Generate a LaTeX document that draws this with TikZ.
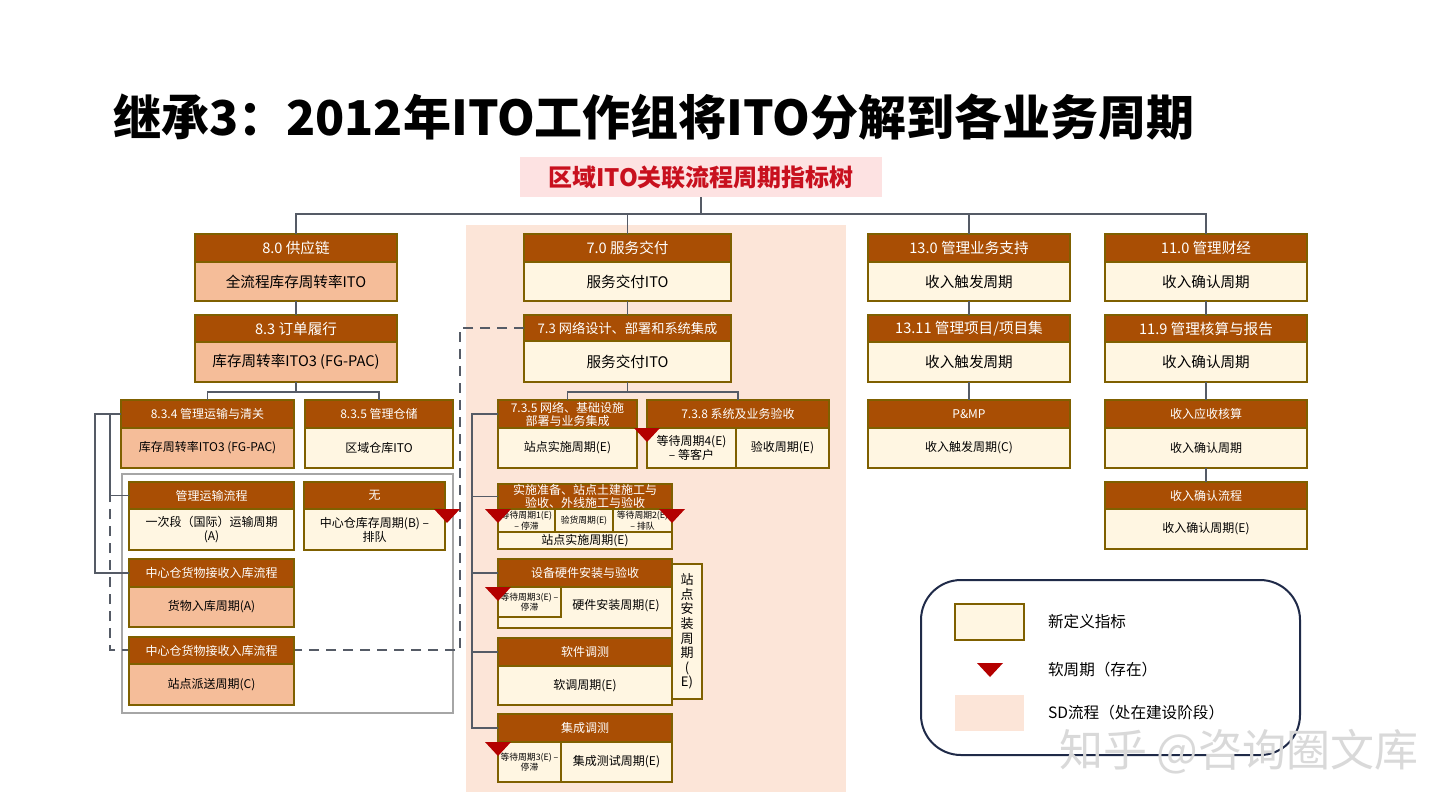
\documentclass[tikz,border=0pt]{standalone}
\usepackage{fontspec}
\setmainfont{Noto Sans CJK SC}
\usetikzlibrary{calc}
\definecolor{hdrc}{HTML}{A94E04}
\definecolor{bordc}{HTML}{7F6000}
\definecolor{creamc}{HTML}{FFF6E2}
\definecolor{peachc}{HTML}{F5BD99}
\definecolor{sdc}{HTML}{FCE5D8}
\definecolor{connc}{HTML}{555B66}
\definecolor{tric}{HTML}{B40000}
\definecolor{subbg}{HTML}{FDE2E2}
\definecolor{subtx}{HTML}{C8101E}
\definecolor{legc}{HTML}{1F2A48}
\definecolor{framec}{HTML}{A6A6A6}
\newcommand\fs[2]{\fontsize{#1pt}{#2pt}\selectfont}
\newcommand\bx[7]{\node[#2, minimum width={(#5-#3)*0.5pt}, minimum height={(#6-#4)*0.5pt}] (#1) at ({(#3+#5)/2},{(#4+#6)/2}) {#7};}
\tikzset{
  cell/.style={draw=bordc, line width=0.75pt, inner sep=0pt, outer sep=0pt, align=center, text=black},
  hdr/.style={cell, fill=hdrc, text=white},
  crm/.style={cell, fill=creamc},
  pch/.style={cell, fill=peachc},
  conn/.style={draw=connc, line width=0.8pt},
  dsh/.style={conn, dash pattern={on 5pt off 3.5pt}},
  big/.style={font=\fs{7.3}{9}},
  mid/.style={font=\fs{6}{7}},
  tiny/.style={font=\fs{4.4}{5.2}},
  legtxt/.style={anchor=west, font=\fs{7.8}{9}},
}
\newcommand\tri[2]{\fill[tric] ({#1-13},#2) -- ({#1+13},#2) -- (#1,{#2+14}) -- cycle;}
\begin{document}
\begin{tikzpicture}[x=0.5pt,y=-0.5pt]
\fill[white] (0,0) rectangle (1440,810);
\useasboundingbox (0,0) rectangle (1440,810);
% title
\node[anchor=west, font=\fs{24}{28}\bfseries] (title) at (106,117) {继承3：2012年ITO工作组将ITO分解到各业务周期};
\bx{root}{fill=subbg, inner sep=0pt, text=subtx, font=\fs{12}{14}\bfseries}{520}{157}{882}{197}{区域ITO关联流程周期指标树}
% SD background
\fill[sdc] (466,225) rectangle (846,792);
\coordinate (dl) at (110,650);
% column 8
\bx{a0h}{hdr,big}{195}{234}{397}{262}{8.0 供应链}
\bx{a0b}{pch,big}{195}{262}{397}{301}{全流程库存周转率ITO}
\bx{a1h}{hdr,big}{195}{315}{397}{342}{8.3 订单履行}
\bx{a1b}{pch,big}{195}{342}{397}{382}{库存周转率ITO3 (FG-PAC)}
\bx{a2h}{hdr,mid}{121}{400}{294}{428}{8.3.4 管理运输与清关}
\bx{a2b}{pch,mid}{121}{428}{294}{468}{库存周转率ITO3 (FG-PAC)}
\bx{a3h}{hdr,mid}{305}{400}{453}{428}{8.3.5 管理仓储}
\bx{a3b}{crm,mid}{305}{428}{453}{468}{区域仓库ITO}
\draw[draw=framec, line width=0.9pt] (122,474) rectangle (453,713);
% column 7 upper
\bx{b0h}{hdr,big}{524}{234}{731}{262}{7.0 服务交付}
\bx{b0b}{crm,big}{524}{262}{731}{301}{服务交付ITO}
\bx{b1h}{hdr,font=\fs{6.6}{8}}{524}{315}{731}{341}{7.3 网络设计、部署和系统集成}
\bx{b1b}{crm,big}{524}{341}{731}{382}{服务交付ITO}
\draw[dsh] (b1h.west) -- ++(-64,0) |- (dl) -- (110,496);
\bx{a4h}{hdr,mid}{129}{482}{294}{509}{管理运输流程}
\bx{a4b}{crm,mid}{129}{509}{294}{550}{一次段（国际）运输周期\\(A)}
\bx{a5h}{hdr,mid}{304}{482}{445}{509}{无}
\bx{a5b}{crm,mid}{304}{509}{445}{550}{中心仓库存周期(B) –\\排队}
\bx{a6h}{hdr,mid}{129}{559}{294}{587}{中心仓货物接收入库流程}
\bx{a6b}{pch,mid}{129}{587}{294}{627}{货物入库周期(A)}
\bx{a7h}{hdr,mid}{129}{637}{294}{664}{中心仓货物接收入库流程}
\bx{a7b}{pch,mid}{129}{664}{294}{705}{站点派送周期(C)}
% column 7 lower
\bx{b2h}{hdr,font=\fs{6}{6.6}}{498}{400}{637}{428}{7.3.5 网络、基础设施\\部署与业务集成}
\bx{b2b}{crm,mid}{498}{428}{637}{468}{站点实施周期(E)}
\bx{b3h}{hdr,mid}{647}{400}{829}{428}{7.3.8 系统及业务验收}
\bx{b3l}{crm,mid}{647}{428}{736}{468}{等待周期4(E)\\– 等客户}
\bx{b3r}{crm,mid}{736}{428}{829}{468}{验收周期(E)}
\bx{b4h}{hdr,font=\fs{6}{6.4}}{498}{484}{672}{509}{实施准备、站点土建施工与\\验收、外线施工与验收}
\bx{b4c1}{crm,tiny}{498}{509}{555}{532}{等待周期1(E)\\– 停滞}
\bx{b4c2}{crm,tiny}{555}{509}{613}{532}{验货周期(E)}
\bx{b4c3}{crm,tiny}{613}{509}{672}{532}{等待周期2(E)\\– 排队}
\bx{b4b}{crm,mid}{498}{532}{672}{549}{站点实施周期(E)}
\bx{b5h}{hdr,mid}{498}{559}{672}{587}{设备硬件安装与验收}
\bx{b5b}{crm}{498}{587}{672}{628}{}
\bx{b5l}{crm,tiny}{498}{587}{561}{617}{等待周期3(E) –\\停滞}
\node[mid] (b5t) at (616,606) {硬件安装周期(E)};
\bx{b6h}{hdr,mid}{498}{638}{672}{666}{软件调测}
\bx{b6b}{crm,mid}{498}{666}{672}{705}{软调周期(E)}
\bx{b7h}{hdr,mid}{498}{714}{672}{742}{集成调测}
\bx{b7l}{crm,tiny}{498}{742}{561}{782}{等待周期3(E) –\\停滞}
\bx{b7r}{crm,mid}{561}{742}{672}{782}{集成测试周期(E)}
\bx{b8}{crm,font=\fs{6.5}{7.3}}{672}{564}{702}{699}{站\\点\\安\\装\\周\\期\\(\\E)}
% column 13
\bx{c0h}{hdr,big}{868}{234}{1070}{262}{13.0 管理业务支持}
\bx{c0b}{crm,big}{868}{262}{1070}{301}{收入触发周期}
\bx{c1h}{hdr,big}{868}{315}{1070}{342}{13.11 管理项目/项目集}
\bx{c1b}{crm,big}{868}{342}{1070}{382}{收入触发周期}
\bx{c2h}{hdr,mid}{868}{400}{1070}{428}{P\&MP}
\bx{c2b}{crm,mid}{868}{428}{1070}{468}{收入触发周期(C)}
% column 11
\bx{d0h}{hdr,big}{1105}{234}{1307}{262}{11.0 管理财经}
\bx{d0b}{crm,big}{1105}{262}{1307}{301}{收入确认周期}
\bx{d1h}{hdr,big}{1105}{315}{1307}{342}{11.9 管理核算与报告}
\bx{d1b}{crm,big}{1105}{342}{1307}{382}{收入确认周期}
\bx{d2h}{hdr,mid}{1105}{400}{1307}{428}{收入应收核算}
\bx{d2b}{crm,mid}{1105}{428}{1307}{468}{收入确认周期}
\bx{d3h}{hdr,mid}{1105}{482}{1307}{509}{收入确认流程}
\bx{d3b}{crm,mid}{1105}{509}{1307}{549}{收入确认周期(E)}
% connectors
\coordinate (bus) at (701,214);
\draw[conn] (root.south) -- (bus);
\draw[conn] (a0h.north) -- (a0h.north |- bus) -- (d0h.north |- bus) -- (d0h.north);
\draw[conn] (b0h.north) -- (b0h.north |- bus);
\draw[conn] (c0h.north) -- (c0h.north |- bus);
\draw[conn] (a0b.south) -- (a1h.north);
\draw[conn] (a1b.south) -- ++(0,10) coordinate (a1x);
\draw[conn] (a2h.north) |- (a1x) -| (a3h.north);
\draw[conn] (a2h.west) -- ++(-26,0) |- (a6h.west);
\draw[conn] ($(a2h.west)+(-11,0)$) |- (a4h.west);
\draw[conn] (b0b.south) -- (b1h.north);
\draw[conn] (b1b.south) -- ++(0,10) coordinate (b1x);
\draw[conn] (b2h.north) |- (b1x) -| (b3h.north);
\draw[conn] (b2h.west) -- ++(-26,0) coordinate (bx) |- (b7h.west);
\draw[conn] (bx |- b4h.west) -- (b4h.west);
\draw[conn] (bx |- b5h.west) -- (b5h.west);
\draw[conn] (bx |- b6h.west) -- (b6h.west);
\draw[conn] (c0b.south) -- (c1h.north);
\draw[conn] (c1b.south) -- (c2h.north);
\draw[conn] (d0b.south) -- (d1h.north);
\draw[conn] (d1b.south) -- (d2h.north);
\draw[conn] (d2b.south) -- (d3h.north);
% soft-cycle triangles
\tri{447}{509}
\tri{647}{428}
\tri{498}{509}
\tri{672}{509}
\tri{498}{587}
\tri{498}{742}
% legend
\draw[legc, line width=1pt, rounded corners=20pt] (921,580) rectangle (1300,755);
\bx{lg1}{crm}{955}{604}{1024}{640}{}
\node[legtxt] (lg1t) at (1041,622) {新定义指标};
\tri{990}{663}
\node[legtxt] (lg2t) at (1041,670) {软周期（存在）};
\bx{lg3}{fill=sdc, inner sep=0pt}{955}{695}{1024}{731}{}
\node[legtxt] (lg3t) at (1041,713) {SD流程（处在建设阶段）};
% watermark
\node[anchor=west, font=\fs{22}{26}, text=gray!30] (wm) at (1052,752) {知乎 @咨询圈文库};
\end{tikzpicture}
\end{document}
